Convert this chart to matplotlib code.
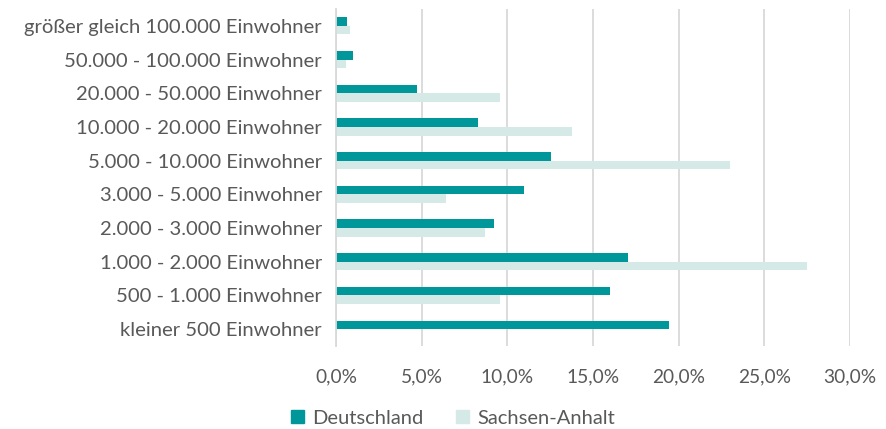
import matplotlib
matplotlib.use("Agg")
import matplotlib.pyplot as plt
import numpy as np
from matplotlib.ticker import FuncFormatter
from matplotlib.patches import Patch

categories = [
    "größer gleich 100.000 Einwohner",
    "50.000 - 100.000 Einwohner",
    "20.000 - 50.000 Einwohner",
    "10.000 - 20.000 Einwohner",
    "5.000 - 10.000 Einwohner",
    "3.000 - 5.000 Einwohner",
    "2.000 - 3.000 Einwohner",
    "1.000 - 2.000 Einwohner",
    "500 - 1.000 Einwohner",
    "kleiner 500 Einwohner",
]
deutschland = [0.0066, 0.0100, 0.0470, 0.0828, 0.1257, 0.1100, 0.0920, 0.1706, 0.1600, 0.1945]
sachsen_anhalt = [0.0084, 0.0058, 0.0960, 0.1378, 0.2298, 0.0641, 0.0870, 0.2750, 0.0960, 0.0]
xticks = [0.0, 0.05, 0.10, 0.15, 0.20, 0.25, 0.30]

plt.rcParams['font.family'] = ['Lato', 'DejaVu Sans']
text_color = '#595959'
c_de = '#00979A'
c_sa = '#D5EAE6'

fig = plt.figure(figsize=(8.87, 4.29), dpi=100)
ax = fig.add_axes([336/887, 1-346/429, (850-336)/887, (346-9)/429])

n = len(categories)
y = np.arange(n)
h = 0.255
ax.barh(y - h/2, deutschland, height=h, color=c_de, zorder=3)
ax.barh(y + h/2, sachsen_anhalt, height=h, color=c_sa, zorder=3)

ax.set_ylim(n - 0.5, -0.5)
ax.set_xlim(0, 0.30)
ax.set_yticks(y)
ax.set_yticklabels(categories, fontsize=14.6, color=text_color)
ax.set_xticks(xticks)
ax.xaxis.set_major_formatter(FuncFormatter(lambda v, p: f"{v*100:.1f}%".replace('.', ',')))
ax.tick_params(axis='x', length=0, pad=16, labelsize=13.8, labelcolor=text_color)
ax.tick_params(axis='y', length=0, pad=10)
ax.grid(axis='x', color='#D9D9D9', linewidth=1.3, zorder=0)
for s in ['top', 'right', 'bottom']:
    ax.spines[s].set_visible(False)
ax.spines['left'].set_color('#D9D9D9')
ax.spines['left'].set_linewidth(1.3)
ax.spines['left'].set_zorder(4)

handles = [Patch(color=c_de, label='Deutschland'), Patch(color=c_sa, label='Sachsen-Anhalt')]
fig.legend(handles=handles, loc='center', bbox_to_anchor=(453/887, 1-418/429), ncol=2,
           frameon=False, fontsize=14.5, labelcolor=text_color, handlelength=0.65,
           handleheight=0.65, handletextpad=0.4, columnspacing=1.6)

fig.savefig('out.png', dpi=100)
